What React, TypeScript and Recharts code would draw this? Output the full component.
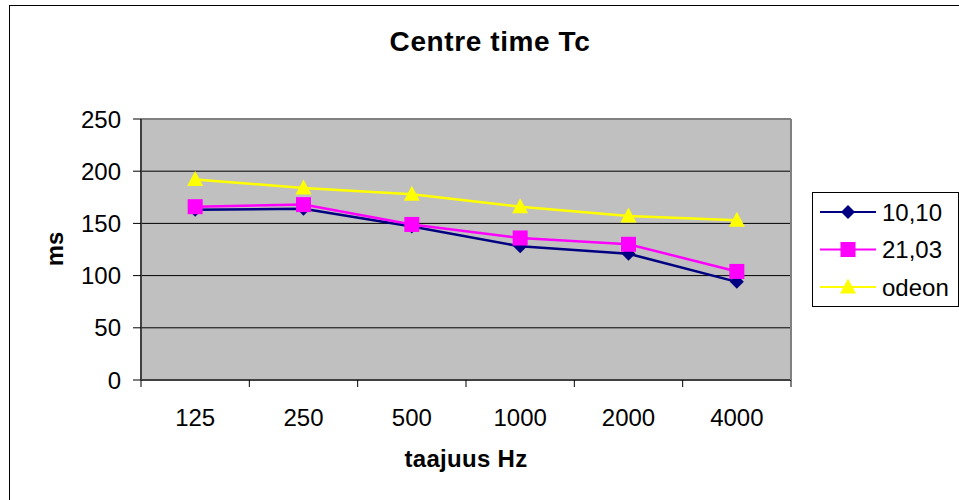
import React from "react"
import { LineChart, Line, XAxis, YAxis, CartesianGrid } from "recharts"

const frequencies = ["125", "250", "500", "1000", "2000", "4000"]
const series1010 = [163, 164, 147, 128, 121, 94]
const series2103 = [166, 168, 149, 136, 130, 104]
const seriesOdeon = [192, 184, 178, 166, 157, 153]
const yTicks = [0, 50, 100, 150, 200, 250]

const seriesInfo = [
  { key: "s1010", name: "10,10", color: "#000080", shape: "diamond" },
  { key: "s2103", name: "21,03", color: "#FF00FF", shape: "square" },
  { key: "odeon", name: "odeon", color: "#FFFF00", shape: "triangle" },
]

const data = frequencies.map((f, i) => ({
  freq: f,
  s1010: series1010[i],
  s2103: series2103[i],
  odeon: seriesOdeon[i],
}))

const FONT = "Arial, 'Liberation Sans', sans-serif"

function Marker({ cx, cy, shape, color }: any) {
  if (cx == null || cy == null) return null
  if (shape === "diamond") {
    return (
      <polygon
        points={`${cx},${cy - 7} ${cx + 7},${cy} ${cx},${cy + 7} ${cx - 7},${cy}`}
        fill={color}
      />
    )
  }
  if (shape === "square") {
    return <rect x={cx - 7.5} y={cy - 7.5} width={15} height={15} fill={color} />
  }
  return (
    <polygon
      points={`${cx},${cy - 8.5} ${cx + 8},${cy + 6.5} ${cx - 8},${cy + 6.5}`}
      fill={color}
    />
  )
}

function XTick(props: any) {
  const { x, y, payload, index } = props
  const off = payload?.offset ?? 0
  return (
    <g>
      <line x1={x - off} x2={x - off} y1={y} y2={y + 7} stroke="#000" />
      {index === frequencies.length - 1 && (
        <line x1={x + off} x2={x + off} y1={y} y2={y + 7} stroke="#000" />
      )}
      <text
        x={x}
        y={y + 46}
        textAnchor="middle"
        fontFamily={FONT}
        fontSize={24}
        fill="#000"
      >
        {payload.value}
      </text>
    </g>
  )
}

function LegendBox() {
  return (
    <svg width={147} height={115} style={{ display: "block" }}>
      <rect x={0.5} y={0.5} width={146} height={114} fill="#fff" stroke="#000" />
      {seriesInfo.map((s, i) => {
        const cy = 20 + i * 37.5
        return (
          <g key={s.key}>
            <line x1={8} x2={64} y1={cy} y2={cy} stroke={s.color} strokeWidth={2} />
            <Marker cx={36} cy={cy} shape={s.shape} color={s.color} />
            <text x={70} y={cy + 8.5} fontFamily={FONT} fontSize={24} fill="#000">
              {s.name}
            </text>
          </g>
        )
      })}
    </svg>
  )
}

export default function App() {
  return (
    <div
      style={{
        position: "absolute",
        left: 0,
        top: 0,
        width: 959,
        height: 500,
        overflow: "hidden",
        background: "#fff",
      }}
    >
      <div
        style={{
          position: "absolute",
          left: 9,
          top: 5,
          width: 980,
          height: 520,
          border: "1px solid #000",
        }}
      />
      <div
        style={{
          position: "absolute",
          left: 0,
          top: 28,
          width: 980,
          textAlign: "center",
          fontFamily: FONT,
          fontWeight: "bold",
          fontSize: 28,
          lineHeight: "28px",
          letterSpacing: 0.6,
        }}
      >
        Centre time Tc
      </div>
      <div style={{ position: "absolute", left: 0, top: 0 }}>
        <LineChart
          width={959}
          height={500}
          data={data}
          margin={{ top: 118, right: 167, bottom: 0, left: 0 }}
        >
          <CartesianGrid
            vertical={false}
            stroke="#000"
            fill="#C0C0C0"
            fillOpacity={1}
          />
          <XAxis
            dataKey="freq"
            scale="band"
            height={120}
            tickSize={0}
            tickMargin={0}
            tickLine={false}
            axisLine={{ stroke: "#404040", strokeWidth: 2 }}
            tick={<XTick />}
            interval={0}
            label={{
              content: () => (
                <text
                  x={466}
                  y={467}
                  textAnchor="middle"
                  fontFamily={FONT}
                  fontWeight="bold"
                  fontSize={24}
                  letterSpacing={0.3}
                  fill="#000"
                >
                  taajuus Hz
                </text>
              ),
            }}
          />
          <XAxis
            xAxisId="top"
            dataKey="freq"
            scale="band"
            orientation="top"
            height={1}
            tick={false}
            tickLine={false}
            axisLine={{ stroke: "#808080", strokeWidth: 2 }}
          />
          <YAxis
            width={141}
            domain={[0, 250]}
            ticks={yTicks}
            interval={0}
            tickSize={8}
            tickMargin={12}
            tickLine={{ stroke: "#000" }}
            axisLine={{ stroke: "#404040", strokeWidth: 2 }}
            tick={{ fill: "#000", fontSize: 24, fontFamily: FONT }}
            label={{
              content: () => (
                <text
                  transform="translate(63,249) rotate(-90)"
                  textAnchor="middle"
                  fontFamily={FONT}
                  fontWeight="bold"
                  fontSize={24}
                  fill="#000"
                >
                  ms
                </text>
              ),
            }}
          />
          <YAxis
            yAxisId="right"
            orientation="right"
            width={1}
            domain={[0, 250]}
            tick={false}
            tickLine={false}
            axisLine={{ stroke: "#808080", strokeWidth: 2 }}
          />
          {seriesInfo.map((s) => (
            <Line
              key={s.key}
              dataKey={s.key}
              name={s.name}
              stroke={s.color}
              strokeWidth={2.5}
              isAnimationActive={false}
              activeDot={false}
              dot={(p: any) => (
                <Marker key={`${s.key}-${p.index}`} cx={p.cx} cy={p.cy} shape={s.shape} color={s.color} />
              )}
            />
          ))}
        </LineChart>
      </div>
      <div style={{ position: "absolute", left: 812, top: 192 }}>
        <LegendBox />
      </div>
    </div>
  )
}
